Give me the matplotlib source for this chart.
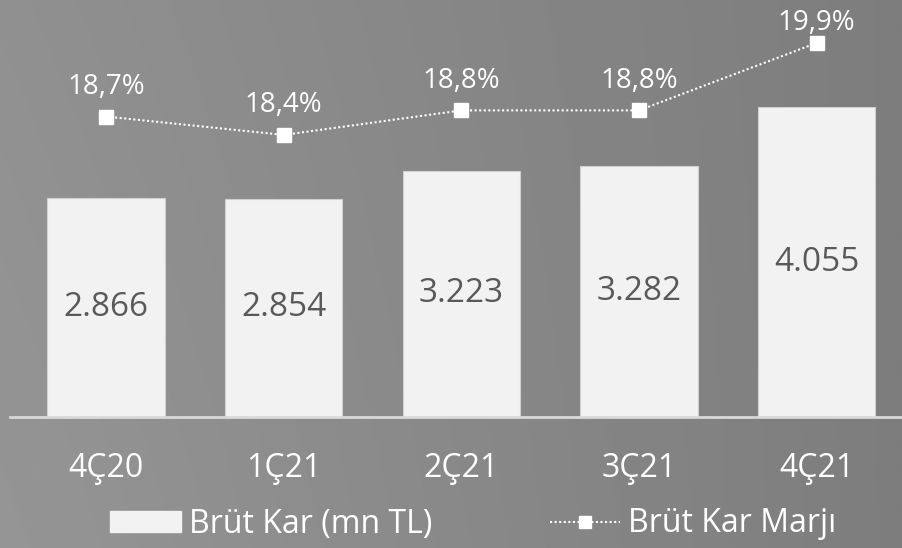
import numpy as np
from matplotlib import pyplot as plt
from matplotlib.patches import Patch
from matplotlib.lines import Line2D

quarters = ["4Ç20", "1Ç21", "2Ç21", "3Ç21", "4Ç21"]
gross_profit = [2866, 2854, 3223, 3282, 4055]
gross_margin = [18.7, 18.4, 18.8, 18.8, 19.9]
profit_labels = ["2.866", "2.854", "3.223", "3.282", "4.055"]
margin_labels = ["18,7%", "18,4%", "18,8%", "18,8%", "19,9%"]

plt.rcParams["font.family"] = ["Open Sans", "DejaVu Sans"]

fig = plt.figure(figsize=(9.02, 5.48), dpi=100)

# gradient background
bg = fig.add_axes([0, 0, 1, 1])
xx, yy = np.meshgrid(np.linspace(0, 1, 300), np.linspace(0, 1, 200))
grad = 0.565 - 0.075 * xx + 0.02 * yy - 0.02 * xx * yy
bg.imshow(grad, cmap="gray", vmin=0, vmax=1, aspect="auto", extent=[0, 1, 0, 1])
bg.axis("off")

ax = fig.add_axes([10 / 902, 1 - 417 / 548, 892 / 902, 417 / 548])
ax.patch.set_alpha(0)
x = np.arange(len(quarters))
ax.bar(x, gross_profit, width=0.66, color="#f2f2f2", edgecolor="#d0d0d0", linewidth=0.8, zorder=2)
ax.set_xlim(-0.54, 4.48)
ax.set_ylim(0, 5458)
for xi, v, lab in zip(x, gross_profit, profit_labels):
    ax.text(xi, v / 2, lab, ha="center", va="center", fontsize=24, color="#595959", zorder=3)
for s in ["top", "right", "left"]:
    ax.spines[s].set_visible(False)
ax.spines["bottom"].set_color("#d9d9d9")
ax.spines["bottom"].set_linewidth(2)
ax.set_yticks([])
ax.set_xticks(x)
ax.set_xticklabels(quarters, fontsize=23, color="white")
ax.tick_params(axis="x", length=0, pad=25)

ax2 = ax.twinx()
ax2.plot(x, gross_margin, color="white", linestyle=(0, (1, 1.2)), linewidth=1.5,
         marker="s", markersize=10, markerfacecolor="white", markeredgecolor="white", zorder=4)
ax2.set_ylim(13.8, 20.6)
ax2.axis("off")
for xi, v, lab in zip(x, gross_margin, margin_labels):
    ax2.text(xi, min(v + 0.48, 20.22), lab, ha="center", va="center", fontsize=20, color="white")

handles = [
    Patch(facecolor="#f2f2f2", edgecolor="#f2f2f2"),
    Line2D([], [], color="white", linestyle=(0, (1, 1.2)), linewidth=1.5,
           marker="s", markersize=9, markerfacecolor="white", markeredgecolor="white"),
]
leg = fig.legend(handles, ["Brüt Kar (mn TL)", "Brüt Kar Marjı"], loc="center",
                 bbox_to_anchor=(0.525, 1 - 524 / 548), ncol=2, frameon=False,
                 fontsize=23, labelcolor="white", handlelength=2.2, handleheight=0.65,
                 handletextpad=0.25, columnspacing=3.7)

fig.savefig("out.png", dpi=100)
